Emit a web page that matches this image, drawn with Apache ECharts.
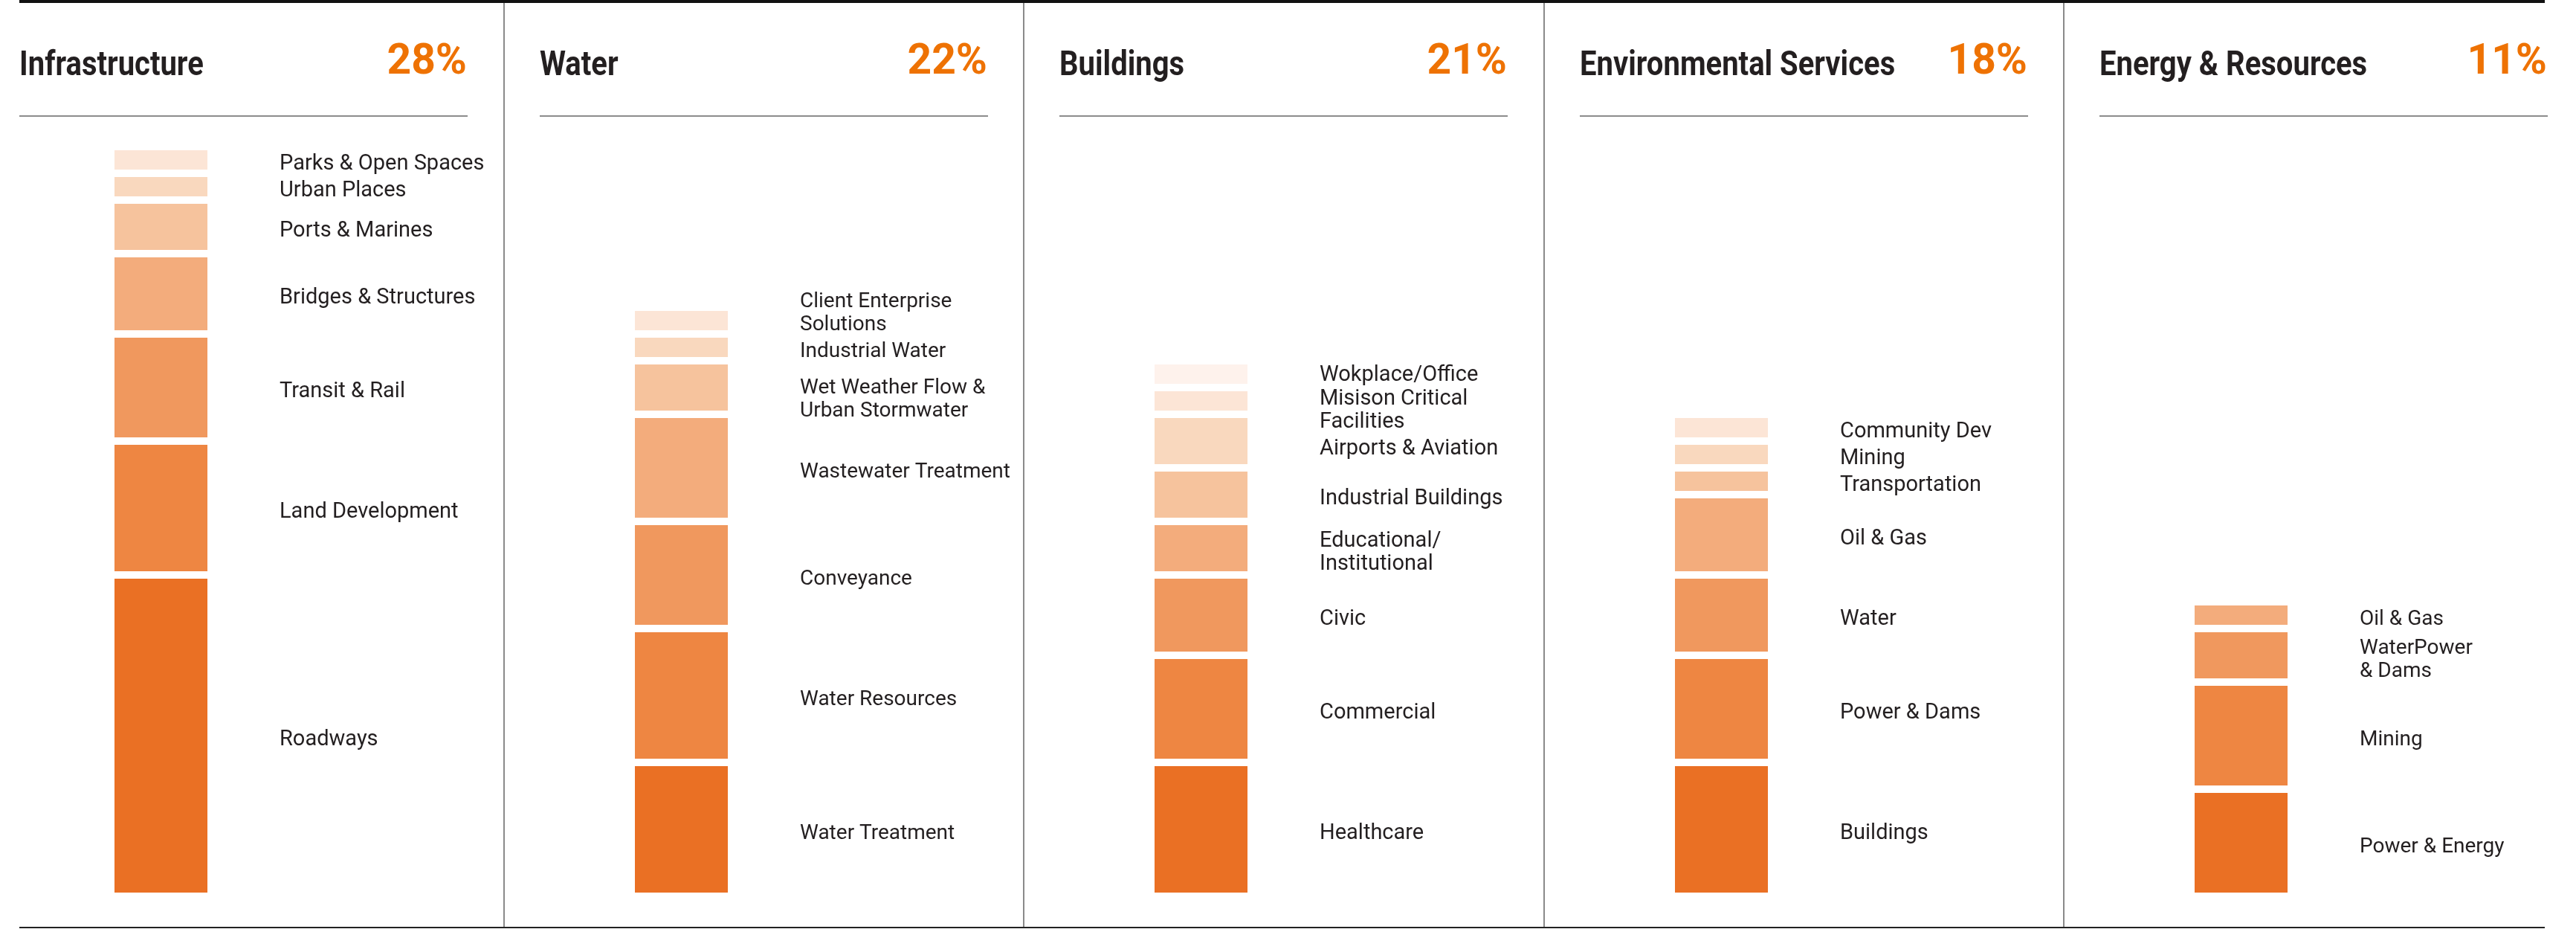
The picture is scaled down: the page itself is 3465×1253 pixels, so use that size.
<!DOCTYPE html>
<html>
<head>
<meta charset="utf-8">
<script src="https://cdn.jsdelivr.net/npm/echarts@6/dist/echarts.min.js"></script>
<style>
  html, body { margin: 0; padding: 0; background: #fff; }
  #chart { width: 3465px; height: 1253px; }
</style>
</head>
<body>
<div id="chart"></div>
<script>
// sector headers
const sectorNames = ['Infrastructure', 'Water', 'Buildings', 'Environmental Services', 'Energy & Resources'];
const sectorShares = ['28%', '22%', '21%', '18%', '11%'];

// segments, listed from the bottom of each column up (values in % points)
const infraLabels = ['Roadways', 'Land Development', 'Transit & Rail', 'Bridges & Structures', 'Ports & Marines', 'Urban Places', 'Parks & Open Spaces'];
const infraValues = [12, 5, 4, 3, 2, 1, 1];

const waterLabels = ['Water Treatment', 'Water Resources', 'Conveyance', 'Wastewater Treatment', 'Wet Weather Flow &\nUrban Stormwater', 'Industrial Water', 'Client Enterprise\nSolutions'];
const waterValues = [5, 5, 4, 4, 2, 1, 1];

const buildingsLabels = ['Healthcare', 'Commercial', 'Civic', 'Educational/\nInstitutional', 'Industrial Buildings', 'Airports & Aviation', 'Misison Critical\nFacilities', 'Wokplace/Office'];
const buildingsValues = [5, 4, 3, 2, 2, 2, 1, 1];

const envLabels = ['Buildings', 'Power & Dams', 'Water', 'Oil & Gas', 'Transportation', 'Mining', 'Community Dev'];
const envValues = [5, 4, 3, 3, 1, 1, 1];

const energyLabels = ['Power & Energy', 'Mining', 'WaterPower\n& Dams', 'Oil & Gas'];
const energyValues = [4, 4, 2, 1];

const segLabels = [infraLabels, waterLabels, buildingsLabels, envLabels, energyLabels];
const segValues = [infraValues, waterValues, buildingsValues, envValues, energyValues];

// colour ramp, darkest at the bottom
const shades = ['#ea7024', '#ee8642', '#f0985e', '#f3ac7c', '#f6c39d', '#f9d8be', '#fce5d6', '#fef2ec'];
const narrowPanels = [false, true, false, false, true];

// a few labels sit off their segment's middle so they don't collide
const labelNudge = {
  'Client Enterprise\nSolutions': -16,
  'Wet Weather Flow &\nUrban Stormwater': 10,
  'Misison Critical\nFacilities': 7,
  'Airports & Aviation': 5,
  'Wokplace/Office': -4
};

const chart = echarts.init(document.getElementById('chart'));

const panelLeft = i => 26 + Math.round(699.5 * i);
const ruleWidth = 600;

const grids = [], xAxes = [], yAxes = [], series = [], graphics = [];

sectorNames.forEach((name, p) => {
  const x0 = panelLeft(p);
  grids.push({ left: x0 + 123, width: 135, top: 197, bottom: 48 });
  xAxes.push({ type: 'category', gridIndex: p, data: [name], show: false });
  yAxes.push({ type: 'value', gridIndex: p, min: 0, max: 28, show: false });

  segValues[p].forEach((v, k) => {
    const txt = segLabels[p][k];
    series.push({
      type: 'bar',
      name: txt,
      xAxisIndex: p,
      yAxisIndex: p,
      stack: 'sector' + p,
      barWidth: 135,
      data: [v],
      itemStyle: { color: shades[k], borderColor: '#fff', borderWidth: 5 },
      label: {
        show: true,
        position: 'right',
        distance: 92,
        offset: [0, 6 + (labelNudge[txt] || 0)],
        formatter: () => txt,
        color: '#231f20',
        fontSize: narrowPanels[p] ? 28 : 29,
        fontFamily: 'Roboto, sans-serif',
        lineHeight: 31
      },
      emphasis: { disabled: true }
    });
  });

  // header: bold title squeezed to a condensed look
  graphics.push({
    type: 'text', x: x0, y: 89, scaleX: 0.87, silent: true,
    style: {
      text: name, fill: '#231f20', fontSize: 46, fontWeight: 'bold',
      fontFamily: 'Roboto, sans-serif',
      align: 'left', verticalAlign: 'middle'
    }
  });
  graphics.push({
    type: 'text', x: x0 + ruleWidth + 2, y: 85, silent: true,
    style: {
      text: sectorShares[p], fill: '#ee7203', fontSize: 57, fontWeight: 'bold',
      fontFamily: 'Roboto, sans-serif', align: 'right', verticalAlign: 'middle'
    }
  });
  graphics.push({
    type: 'line', silent: true,
    shape: { x1: x0, y1: 156, x2: x0 + ruleWidth + 3, y2: 156 },
    style: { stroke: '#8c8c8c', lineWidth: 2 }
  });
  if (p > 0) {
    const sx = x0 - 48;
    graphics.push({
      type: 'line', silent: true,
      shape: { x1: sx, y1: 0, x2: sx, y2: 1247 },
      style: { stroke: '#8a8a8a', lineWidth: 2 }
    });
  }
});

// top and bottom frame lines
graphics.push({
  type: 'line', silent: true,
  shape: { x1: 26, y1: 2, x2: 3423, y2: 2 },
  style: { stroke: '#111', lineWidth: 4 }
});
graphics.push({
  type: 'line', silent: true,
  shape: { x1: 26, y1: 1247, x2: 3423, y2: 1247 },
  style: { stroke: '#222', lineWidth: 2 }
});

chart.setOption({
  animation: false,
  backgroundColor: '#fff',
  grid: grids,
  xAxis: xAxes,
  yAxis: yAxes,
  series: series,
  graphic: { elements: graphics }
});
</script>
</body>
</html>
